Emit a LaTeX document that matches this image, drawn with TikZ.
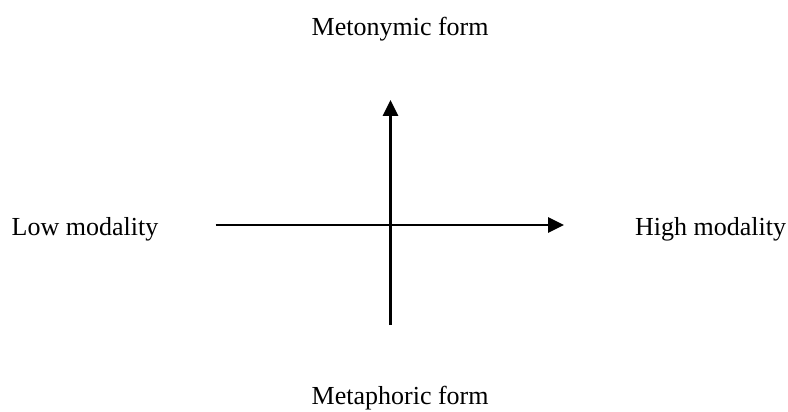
\documentclass[tikz,border=0pt]{standalone}
\usepackage{fontspec}
\setmainfont{Liberation Serif}
\usetikzlibrary{arrows.meta}
\begin{document}
\begin{tikzpicture}[x=1pt,y=-1pt,
  lbl/.style={inner sep=0pt,anchor=base west,font=\fontsize{26}{30}\selectfont},
  axis/.style={line width=2.8pt,-{Triangle[length=16pt,width=15pt]}}]
\useasboundingbox (0,0) rectangle (788,412);
\node[lbl] (top) at (311.5,35.5) {Metonymic form};
\node[lbl] (bot) at (311.5,404.5) {Metaphoric form};
\node[lbl] (left) at (11.5,235) {Low modality};
\node[lbl] (right) at (635,235) {High modality};
\coordinate (hs) at (215.5,225);
\coordinate (he) at (564,225);
\coordinate (vs) at (390.5,325);
\coordinate (ve) at (390.5,100);
\draw[axis] (hs) -- (he);
\draw[axis] (vs) -- (ve);
\end{tikzpicture}
\end{document}
